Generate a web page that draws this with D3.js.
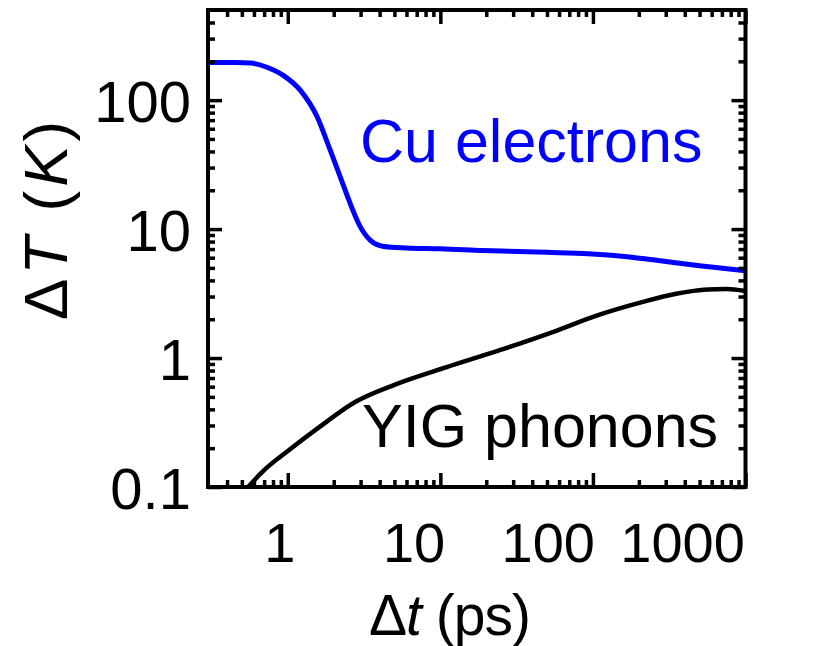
<!DOCTYPE html>
<html>
<head>
<meta charset="utf-8">
<script src="https://cdn.jsdelivr.net/npm/d3@7"></script>
<style>
  html, body { margin: 0; padding: 0; background: #fff; }
  svg { display: block; font-family: "Liberation Sans", Arial, sans-serif; }
</style>
</head>
<body>
<svg id="chart" width="828" height="646"></svg>
<script>
// Cu electron temperature rise vs delay time
const cuTime = [0.3, 0.45, 0.57, 0.73, 0.94, 1.21, 1.56, 1.9, 2.21, 2.57, 2.99, 3.48, 4.25, 6, 10, 19, 50, 93, 180, 268, 500, 1000];
const cuTemp = [196, 196, 194, 180, 155, 119, 74, 40.7, 25.3, 15.7, 10.4, 8.17, 7.34, 7.15, 7.05, 6.83, 6.6, 6.43, 6.05, 5.71, 5.2, 4.75];

// YIG phonon temperature rise vs delay time
const yigTime = [0.45, 0.55, 0.7, 1.0, 1.6, 2.8, 5, 11, 24.5, 54.5, 108, 207, 351, 564, 750, 1000];
const yigTemp = [0.075, 0.1, 0.135, 0.19, 0.29, 0.46, 0.62, 0.85, 1.15, 1.59, 2.15, 2.7, 3.15, 3.4, 3.43, 3.31];

// Axis ticks
const xMajor = [1, 10, 100, 1000];
const xMajorLabels = ["1", "10", "100", "1000"];
const xMinor = [0.4, 0.5, 0.6, 0.7, 0.8, 0.9, 2, 3, 4, 5, 6, 7, 8, 9, 20, 30, 40, 50, 60, 70, 80, 90, 200, 300, 400, 500, 600, 700, 800, 900];
const yMajor = [0.1, 1, 10, 100];
const yMajorLabels = ["0.1", "1", "10", "100"];
const yMinor = [0.2, 0.3, 0.4, 0.5, 0.6, 0.7, 0.8, 0.9, 2, 3, 4, 5, 6, 7, 8, 9, 20, 30, 40, 50, 60, 70, 80, 90, 200, 300, 400];

const plotLeft = 208, plotRight = 745.5, plotTop = 10, plotBottom = 487;

const svg = d3.select("#chart");

const x = d3.scaleLog().domain([0.3, 1000]).range([plotLeft, plotRight]);
const y = d3.scaleLog().domain([0.1, 500]).range([plotBottom, plotTop]);

svg.append("defs").append("clipPath").attr("id", "plot")
  .append("rect").attr("x", plotLeft).attr("y", plotTop)
  .attr("width", plotRight - plotLeft).attr("height", plotBottom - plotTop);

// Curves
const line = d3.line()
  .x(d => x(d[0]))
  .y(d => y(d[1]))
  .curve(d3.curveMonotoneX);

const plot = svg.append("g").attr("clip-path", "url(#plot)");

plot.append("path")
  .datum(yigTime.map((t, i) => [t, yigTemp[i]]))
  .attr("fill", "none").attr("stroke", "#000").attr("stroke-width", 4.5)
  .attr("stroke-linejoin", "round")
  .attr("d", line);

plot.append("path")
  .datum(cuTime.map((t, i) => [t, cuTemp[i]]))
  .attr("fill", "none").attr("stroke", "#0000ff").attr("stroke-width", 5)
  .attr("stroke-linejoin", "round")
  .attr("d", line);

// Ticks on all four sides, pointing inward
function ticks(axisFn, scale, values, size, translate) {
  const g = svg.append("g").attr("transform", translate)
    .call(axisFn(scale).tickValues(values).tickSize(size).tickFormat(""));
  g.select(".domain").remove();
  g.selectAll(".tick line").attr("stroke", "#000").attr("stroke-width", 3.5);
  return g;
}
const MAJ = 14, MIN = 7;
ticks(d3.axisBottom, x, xMajor, -MAJ, `translate(0,${plotBottom})`);
ticks(d3.axisBottom, x, xMinor, -MIN, `translate(0,${plotBottom})`);
ticks(d3.axisTop, x, xMajor, -MAJ, `translate(0,${plotTop})`);
ticks(d3.axisTop, x, xMinor, -MIN, `translate(0,${plotTop})`);
ticks(d3.axisLeft, y, yMajor, -MAJ, `translate(${plotLeft},0)`);
ticks(d3.axisLeft, y, yMinor, -MIN, `translate(${plotLeft},0)`);
ticks(d3.axisRight, y, yMajor, -MAJ, `translate(${plotRight},0)`);
ticks(d3.axisRight, y, yMinor, -MIN, `translate(${plotRight},0)`);

// Frame
svg.append("rect")
  .attr("x", plotLeft).attr("y", plotTop)
  .attr("width", plotRight - plotLeft).attr("height", plotBottom - plotTop)
  .attr("fill", "none").attr("stroke", "#000").attr("stroke-width", 4);

// Tick labels: the bottom labels sit on a slightly tighter pitch than the ticks
const x0 = x(1);
const labelX = d => x0 - 8 + 0.88 * (x(d) - x0);
svg.append("g").selectAll("text").data(xMajor).join("text")
  .attr("x", labelX)
  .attr("y", 562)
  .attr("text-anchor", "middle")
  .attr("font-size", 56)
  .attr("fill", "#000")
  .text((d, i) => xMajorLabels[i]);

svg.append("g").selectAll("text").data(yMajor).join("text")
  .attr("x", 191)
  .attr("y", d => y(d) + 22)
  .attr("text-anchor", "end")
  .attr("font-size", 58)
  .attr("fill", "#000")
  .text((d, i) => yMajorLabels[i]);

// Axis titles
const xt = svg.append("text")
  .attr("x", 369).attr("y", 635)
  .attr("font-size", 57).attr("letter-spacing", -1).attr("fill", "#000");
xt.append("tspan").text("Δ");
xt.append("tspan").attr("font-style", "italic").text("t");
xt.append("tspan").text(" (ps)");

const yt = svg.append("text")
  .attr("transform", "translate(67,320) rotate(-90)")
  .attr("text-anchor", "start")
  .attr("font-size", 62).attr("letter-spacing", 4).attr("fill", "#000");
yt.append("tspan").text("Δ");
yt.append("tspan").attr("font-style", "italic").text("T");
yt.append("tspan").text(" (");
yt.append("tspan").attr("font-style", "italic").text("K");
yt.append("tspan").text(")");

// Series labels
svg.append("text")
  .attr("x", 360).attr("y", 162)
  .attr("font-size", 61).attr("fill", "#0000ff")
  .text("Cu electrons");

svg.append("text")
  .attr("x", 362).attr("y", 447)
  .attr("font-size", 61).attr("fill", "#000")
  .text("YIG phonons");
</script>
</body>
</html>
